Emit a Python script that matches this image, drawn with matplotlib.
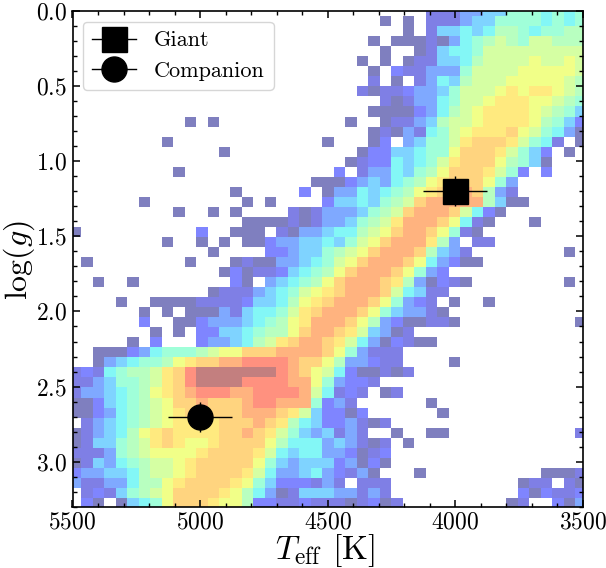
import numpy as np
from matplotlib import pyplot as plt
from matplotlib.ticker import MultipleLocator

plt.rcParams['font.family'] = ['cmr10', 'DejaVu Sans']
plt.rcParams['mathtext.fontset'] = 'cm'
plt.rcParams['axes.formatter.use_mathtext'] = True

# Colour level of every cell as a hex digit, 0 = empty cell. Top row first.
# hess_left holds columns 0-21, hess_right columns 22-44.
hess_left = [
    "0000000000000000000000",
    "0000000000000000000000",
    "0000000000000000000000",
    "0000000000000000000000",
    "0000000000000000000000",
    "0000000000000000000000",
    "0000000000000000000000",
    "0000000000000000000000",
    "0000000000000000000000",
    "0000000000000000000000",
    "0000000000000000000000",
    "0000000000101000000000",
    "0000000000000000000000",
    "0000000010000000000000",
    "0000000000000100000000",
    "0000000000000000000000",
    "0000000001000000000000",
    "0000000000000000000001",
    "0000000000000010000030",
    "0000001000000001010000",
    "0000000001001010000212",
    "0000000000000001111212",
    "1000000000030011102144",
    "0000000010010101134455",
    "0000000000001000033455",
    "0100000000100012114456",
    "0000000000000131223567",
    "0010010000000031045678",
    "000000000000122245679a",
    "00001001111222235568ab",
    "00000010101114256679bc",
    "0000003001134445678abd",
    "0000000101033556788acd",
    "000001030003445689bcdd",
    "0011134677789aacccdddd",
    "001456778abccddeeeedcc",
    "23267889bcefffffffedca",
    "22457789bceffffeeeedda",
    "2445678abcdeeeddeeeed9",
    "11356789accdcccdeeddd7",
    "11346789abcccccdddcb95",
    "02456789abbbbcccdcb865",
    "124568abcbbbbccdcb9754",
    "1255789bcbaabcccca8666",
    "2224789aaaabccccb96566",
    "125467899abccccca75455",
    "344556899abccccb964456",
    "42244688abccccba753332",
    "02325789accccba8641255",
    "03101567acccbaa8332232",
]
hess_right = [
    "00000000022244557776767",
    "00000101022245577776767",
    "00000001025565688767788",
    "00001011121467898799888",
    "00000100125667999999999",
    "000101012255689999a99a9",
    "00001032244479999aaaaa9",
    "0000201024658999aaaaa98",
    "000212234457999ababba98",
    "00000212446799abbbaa987",
    "0000111134689abbbba9875",
    "0010012245899abbbba8753",
    "000012142679abbbca97641",
    "100013045779bcccb976201",
    "00013355677acccb9753010",
    "00123365679bccca8751000",
    "0302446578acccb97303000",
    "113454678abccca74000000",
    "14465678abccdc842000000",
    "35565789cddddd851100000",
    "4445789cdddc96310000000",
    "445789bdddca62100010000",
    "56689acddca721000000000",
    "6579acdddb8402200000000",
    "789acdddc85420000000010",
    "79acdddca64311000000000",
    "8acdddca743000000000000",
    "acdddcb8413210000000010",
    "bcdddc96522000000000000",
    "cdddca74320100100000000",
    "dddca754421000000000000",
    "ddca8431122100000000001",
    "dcb95412000000000000000",
    "cb964132110000000000000",
    "ca742220000000000000000",
    "a8443220000100000000000",
    "96311212000000000000000",
    "74332000000000000000000",
    "62320120000000000000000",
    "34200000010000000000000",
    "33130000001000000000000",
    "33421200000000000000000",
    "52420010011000000000002",
    "45421201000000000000000",
    "44312300000000000000000",
    "53413100000000000000000",
    "43241000100000000001112",
    "42022200000000000122021",
    "54424200000000000313223",
    "22123120000000001200314",
]
# where each level 1-15 sits on the colour map
level_pos = [0.0, 0.07, 0.14, 0.21, 0.29, 0.36, 0.43, 0.49, 0.56, 0.625, 0.68, 0.73, 0.80, 0.87, 0.99]

teff_first_edge = 5511.0
teff_bin = 45.0
logg_first_edge = -0.029
logg_bin = 0.0667

stars = ["Giant", "Companion"]
star_teff = [4000, 5000]
star_logg = [1.2, 2.7]
star_teff_err = [125, 125]
star_logg_err = [0.1, 0.1]
star_markers = ["s", "o"]

rows = []
for i in range(len(hess_left)):
    rows.append([int(ch, 16) for ch in hess_left[i] + hess_right[i]])
levels = np.array(rows)
pos = np.ma.masked_where(levels == 0, np.array([0.0] + level_pos)[levels])

teff_edges = teff_first_edge - teff_bin * np.arange(levels.shape[1] + 1)
logg_edges = logg_first_edge + logg_bin * np.arange(levels.shape[0] + 1)

fig = plt.figure(figsize=(6.06, 5.68), dpi=100)
ax = fig.add_axes([72.5 / 606, 1 - 507 / 568, 510.5 / 606, 496.5 / 568])

ax.pcolormesh(teff_edges, logg_edges, pos, cmap="jet", vmin=0, vmax=1, alpha=0.5, linewidth=0)

for i in range(len(stars)):
    ax.errorbar(star_teff[i], star_logg[i], xerr=star_teff_err[i], yerr=star_logg_err[i],
                fmt=star_markers[i] + "-", color="k", ms=18, lw=1, elinewidth=1, label=stars[i])

ax.set_xlim(5500, 3500)
ax.set_ylim(3.3, 0)
ax.xaxis.set_major_locator(MultipleLocator(500))
ax.xaxis.set_minor_locator(MultipleLocator(100))
ax.yaxis.set_major_locator(MultipleLocator(0.5))
ax.yaxis.set_minor_locator(MultipleLocator(0.1))
ax.tick_params(which="both", direction="in", top=True, right=True, labelsize=17)
ax.tick_params(which="major", length=5, width=1.1, pad=4)
ax.tick_params(which="minor", length=3, width=1)
ax.tick_params(axis="x", which="major", pad=3)
for s in ax.spines.values():
    s.set_linewidth(1.2)

ax.set_xlabel(r"$T_{\rm eff}$ [K]", fontsize=24)
ax.set_ylabel(r"$\log(g)$", fontsize=23)
ax.xaxis.set_label_coords(0.495, -0.05)
ax.yaxis.set_label_coords(-0.069, 0.497)
ax.legend(loc="upper left", fontsize=16, handletextpad=0.8, handlelength=2.0,
          numpoints=1, bbox_to_anchor=(0.0206, 0.977), borderaxespad=0)

plt.savefig("out.png", dpi=100)
